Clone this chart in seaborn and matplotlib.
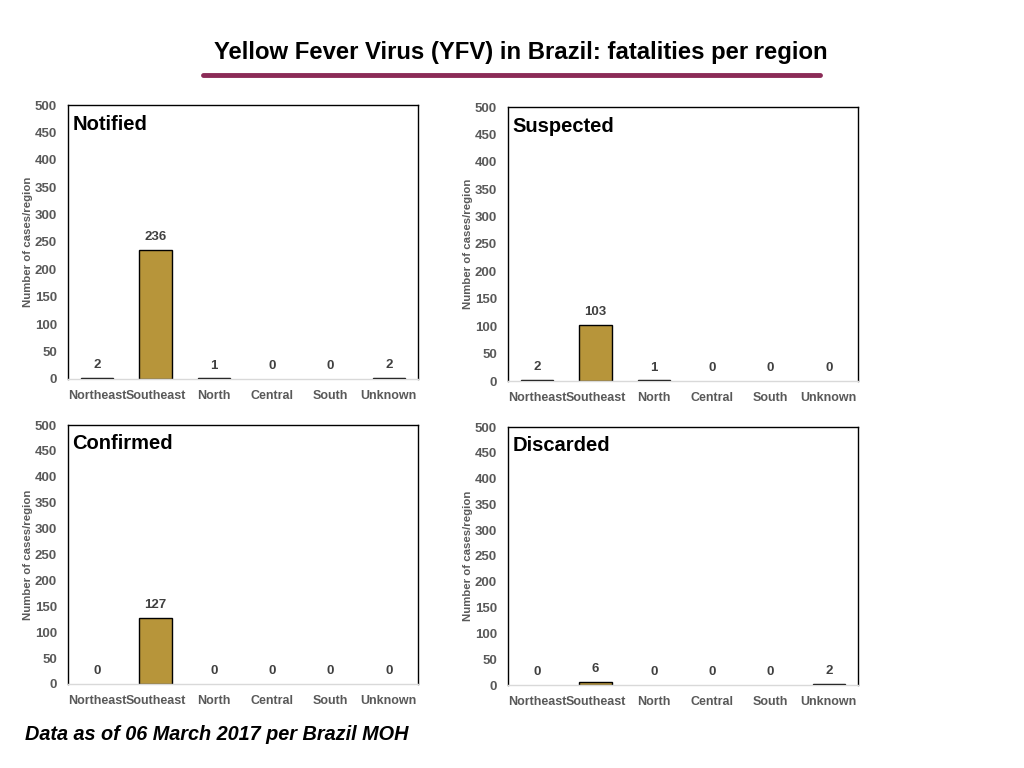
import matplotlib
matplotlib.use("Agg")
import matplotlib.pyplot as plt
import seaborn as sns
import pandas as pd

sns.set_theme(style="white")
plt.rcParams['font.family'] = ['Liberation Sans', 'DejaVu Sans']

regions = ['Northeast', 'Southeast', 'North', 'Central', 'South', 'Unknown']
notified = [2, 236, 1, 0, 0, 2]
suspected = [2, 103, 1, 0, 0, 0]
confirmed = [0, 127, 0, 0, 0, 0]
discarded = [0, 6, 0, 0, 0, 2]

panels = [
    ('Notified', notified, [68, 105, 418, 379]),
    ('Suspected', suspected, [508, 107, 858, 381]),
    ('Confirmed', confirmed, [68, 425, 418, 684]),
    ('Discarded', discarded, [508, 427, 858, 685]),
]

W, H = 1024, 768
fig = plt.figure(figsize=(W / 100, H / 100), dpi=100)

BAR = '#B7953A'
TICK = '#595959'

for name, values, (x0, y0, x1, y1) in panels:
    ax = fig.add_axes([x0 / W, 1 - y1 / H, (x1 - x0) / W, (y1 - y0) / H])
    df = pd.DataFrame({'region': regions, 'cases': values})
    sns.barplot(data=df, x='region', y='cases', color=BAR, width=0.55,
                edgecolor='black', linewidth=1.0, saturation=1, ax=ax)
    for p in ax.patches:
        if p.get_height() == 0:
            p.set_edgecolor('none')
    ax.bar_label(ax.containers[0], labels=[str(v) for v in values], padding=5,
                 fontsize=9.5, fontweight='bold', color='#404040')
    ax.set_ylim(0, 500)
    ax.set_yticks(range(0, 501, 50))
    ax.set_xlim(-0.5, 5.5)
    ax.set_xlabel('')
    ax.set_ylabel('Number of cases/region', fontsize=8.2, fontweight='bold', color=TICK, labelpad=1)
    ax.tick_params(axis='x', length=0, labelsize=9, labelcolor=TICK, pad=8)
    ax.tick_params(axis='y', length=0, labelsize=9.5, labelcolor=TICK, pad=8)
    for lab in ax.get_xticklabels() + ax.get_yticklabels():
        lab.set_fontweight('bold')
    for s in ['left', 'top', 'right']:
        ax.spines[s].set_color('black')
        ax.spines[s].set_linewidth(1.0)
    ax.spines['bottom'].set_color('#D9D9D9')
    ax.spines['bottom'].set_linewidth(1.0)
    ax.text(0.012, 0.965, name, transform=ax.transAxes, ha='left', va='top',
            fontsize=14.5, fontweight='bold', color='black')

fig.text(521 / W, 1 - 52 / H, 'Yellow Fever Virus (YFV) in Brazil: fatalities per region',
         ha='center', va='center', fontsize=17.2, fontweight='bold', color='black',
         family=['Liberation Sans Narrow', 'Liberation Sans', 'DejaVu Sans'])
fig.add_artist(plt.Line2D([203 / W, 820 / W], [1 - 75 / H, 1 - 75 / H],
                          color='#8B2B57', linewidth=3.5, transform=fig.transFigure))
fig.text(25 / W, 1 - 734 / H, 'Data as of 06 March 2017 per Brazil MOH',
         ha='left', va='center', fontsize=14.3, fontweight='bold', style='italic',
         color='black')

fig.savefig('out.png', dpi=100)
